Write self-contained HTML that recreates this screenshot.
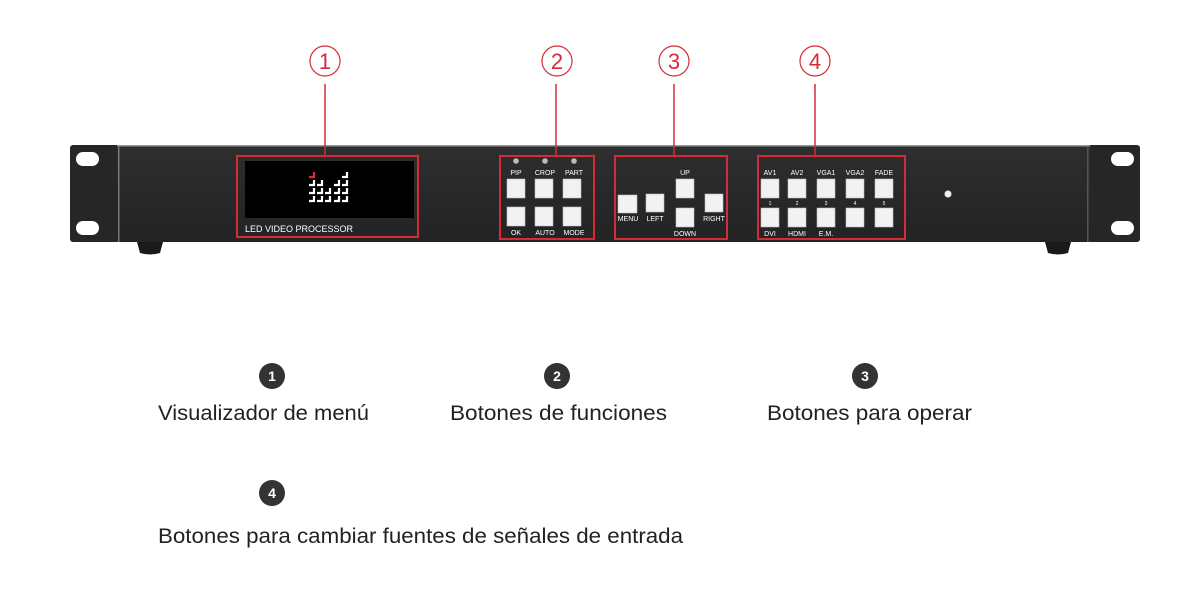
<!DOCTYPE html>
<html><head><meta charset="utf-8"><style>
html,body{margin:0;padding:0;background:#fff;width:1200px;height:590px;overflow:hidden}
svg{display:block}
.l{font-family:"Liberation Sans",Arial,sans-serif;font-size:7px;fill:#fff;text-anchor:middle}
.t{font-family:"Liberation Sans",Arial,sans-serif;font-size:21px;fill:#222}
.n{font-family:"Liberation Sans",Arial,sans-serif;font-size:14px;fill:#fff;text-anchor:middle;font-weight:bold}
.r{font-family:"Liberation Sans",Arial,sans-serif;font-size:22px;fill:#d62a36;text-anchor:middle}
.b{fill:#f2f2f2;stroke:#bbb;stroke-width:.6}
</style></head><body>
<svg width="1200" height="590" viewBox="0 0 1200 590" xmlns="http://www.w3.org/2000/svg">
<defs><linearGradient id="g" x1="0" y1="0" x2="0" y2="1"><stop offset="0" stop-color="#2e2e2e"/><stop offset="1" stop-color="#232323"/></linearGradient></defs>
<!-- feet -->
<path d="M137 242 h26 l-3 11 q-10 3 -20 0 z" fill="#1a1a1a"/>
<path d="M1045 242 h26 l-3 11 q-10 3 -20 0 z" fill="#1a1a1a"/>
<!-- ears -->
<rect x="70" y="145" width="50" height="97" rx="3" fill="#262626"/>
<rect x="1088" y="145" width="52" height="97" rx="3" fill="#262626"/>
<rect x="76" y="152" width="23" height="14" rx="7" fill="#fff"/>
<rect x="76" y="221" width="23" height="14" rx="7" fill="#fff"/>
<rect x="1111" y="152" width="23" height="14" rx="7" fill="#fff"/>
<rect x="1111" y="221" width="23" height="14" rx="7" fill="#fff"/>
<!-- body -->
<rect x="117" y="145" width="973" height="97" fill="url(#g)"/>
<rect x="117" y="145" width="973" height="1.5" fill="#9a9a9a"/>
<rect x="118" y="146" width="1.5" height="96" fill="#777"/>
<rect x="1087" y="146" width="1.5" height="96" fill="#555"/>
<!-- display -->
<rect x="245" y="161" width="169" height="57" fill="#000"/>
<g fill="none" stroke-width="2.2">
<path d="M314 172 v5 h-5" stroke="#d62a36"/>
<g stroke="#fff">
<path d="M347 172 v5 h-5"/>
<path d="M314 180 v5 h-5 M322 180 v5 h-5 M339 180 v5 h-5 M347 180 v5 h-5"/>
<path d="M314 188 v5 h-5 M322 188 v5 h-5 M330 188 v5 h-5 M339 188 v5 h-5 M347 188 v5 h-5"/>
<path d="M314 196 v5 h-5 M322 196 v5 h-5 M330 196 v5 h-5 M339 196 v5 h-5 M347 196 v5 h-5"/>
</g></g>
<text x="245" y="232" style="font-family:'Liberation Sans',Arial,sans-serif;font-size:9px;fill:#fff">LED VIDEO PROCESSOR</text>
<!-- group 2 -->
<circle cx="516" cy="161" r="2.8" fill="#bbb"/><circle cx="545" cy="161" r="2.8" fill="#bbb"/><circle cx="574" cy="161" r="2.8" fill="#bbb"/>
<text class="l" x="516" y="175">PIP</text><text class="l" x="545" y="175">CROP</text><text class="l" x="574" y="175">PART</text>
<rect class="b" x="507" y="179" width="18" height="19"/><rect class="b" x="535" y="179" width="18" height="19"/><rect class="b" x="563" y="179" width="18" height="19"/>
<rect class="b" x="507" y="207" width="18" height="19"/><rect class="b" x="535" y="207" width="18" height="19"/><rect class="b" x="563" y="207" width="18" height="19"/>
<text class="l" x="516" y="235">OK</text><text class="l" x="545" y="235">AUTO</text><text class="l" x="574" y="235">MODE</text>
<!-- group 3 -->
<text class="l" x="685" y="175">UP</text>
<rect class="b" x="676" y="179" width="18" height="19"/>
<rect class="b" x="618" y="195" width="19" height="18"/>
<rect class="b" x="646" y="194" width="18" height="18"/>
<rect class="b" x="705" y="194" width="18" height="18"/>
<rect class="b" x="676" y="208" width="18" height="19"/>
<text class="l" x="628" y="221">MENU</text><text class="l" x="655" y="221">LEFT</text><text class="l" x="714" y="221">RIGHT</text>
<text class="l" x="685" y="236">DOWN</text>
<!-- group 4 -->
<g>
<text class="l" x="770" y="175">AV1</text><text class="l" x="797" y="175">AV2</text><text class="l" x="826" y="175">VGA1</text><text class="l" x="855" y="175">VGA2</text><text class="l" x="884" y="175">FADE</text>
<rect class="b" x="761" y="179" width="18" height="19"/><rect class="b" x="788" y="179" width="18" height="19"/><rect class="b" x="817" y="179" width="18" height="19"/><rect class="b" x="846" y="179" width="18" height="19"/><rect class="b" x="875" y="179" width="18" height="19"/>
<text class="l" x="770" y="205" style="font-size:5px">1</text><text class="l" x="797" y="205" style="font-size:5px">2</text><text class="l" x="826" y="205" style="font-size:5px">3</text><text class="l" x="855" y="205" style="font-size:5px">4</text><text class="l" x="884" y="205" style="font-size:5px">5</text>
<rect class="b" x="761" y="208" width="18" height="19"/><rect class="b" x="788" y="208" width="18" height="19"/><rect class="b" x="817" y="208" width="18" height="19"/><rect class="b" x="846" y="208" width="18" height="19"/><rect class="b" x="875" y="208" width="18" height="19"/>
<text class="l" x="770" y="236">DVI</text><text class="l" x="797" y="236">HDMI</text><text class="l" x="826" y="236">E.M.</text>
</g>
<circle cx="948" cy="194" r="3.5" fill="#eee"/>
<!-- red boxes -->
<g fill="none" stroke="#d62a36" stroke-width="2">
<rect x="237" y="156" width="181" height="81"/>
<rect x="500" y="156" width="94" height="83"/>
<rect x="615" y="156" width="112" height="83"/>
<rect x="758" y="156" width="147" height="83"/>
</g>
<g stroke="#d62a36" stroke-width="1.5">
<line x1="325" y1="84" x2="325" y2="156"/><line x1="556" y1="84" x2="556" y2="156"/><line x1="674" y1="84" x2="674" y2="156"/><line x1="815" y1="84" x2="815" y2="156"/>
</g>
<g fill="none" stroke="#d62a36" stroke-width="1.2">
<circle cx="325" cy="61" r="15"/><circle cx="557" cy="61" r="15"/><circle cx="674" cy="61" r="15"/><circle cx="815" cy="61" r="15"/>
</g>
<text class="r" x="325" y="69">1</text><text class="r" x="557" y="69">2</text><text class="r" x="674" y="69">3</text><text class="r" x="815" y="69">4</text>
<!-- legend -->
<g fill="#333"><circle cx="272" cy="376" r="13"/><circle cx="557" cy="376" r="13"/><circle cx="865" cy="376" r="13"/><circle cx="272" cy="493" r="13"/></g>
<text class="n" x="272" y="381">1</text><text class="n" x="557" y="381">2</text><text class="n" x="865" y="381">3</text><text class="n" x="272" y="498">4</text>
<text class="t" x="158" y="420" textLength="211" lengthAdjust="spacingAndGlyphs">Visualizador de menú</text>
<text class="t" x="450" y="420" textLength="217" lengthAdjust="spacingAndGlyphs">Botones de funciones</text>
<text class="t" x="767" y="420" textLength="205" lengthAdjust="spacingAndGlyphs">Botones para operar</text>
<text class="t" x="158" y="543" textLength="525" lengthAdjust="spacingAndGlyphs">Botones para cambiar fuentes de señales de entrada</text>
</svg>
</body></html>
